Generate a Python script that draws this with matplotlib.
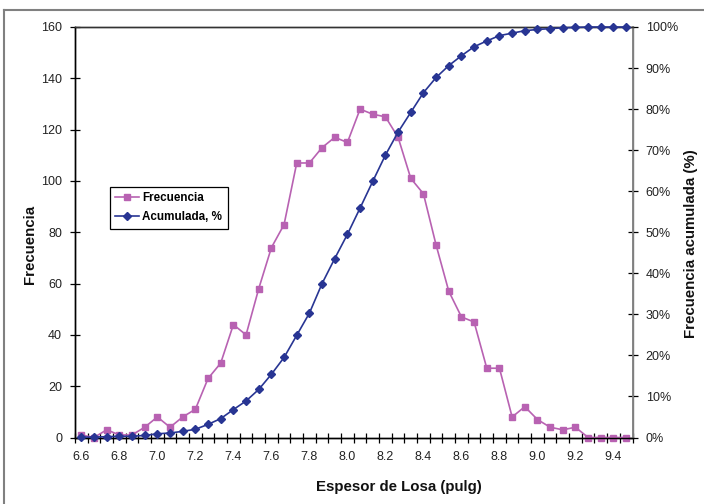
import matplotlib
matplotlib.use("Agg")
import matplotlib.pyplot as plt
from matplotlib.lines import Line2D
from matplotlib.ticker import FixedLocator, FuncFormatter

plt.rcParams['font.family'] = ['Liberation Sans', 'DejaVu Sans']

# Category values (espesor de losa, pulg)
espesor = [6.60, 6.67, 6.73, 6.80, 6.87, 6.93, 7.00, 7.07, 7.13, 7.20, 7.27,
           7.33, 7.40, 7.47, 7.53, 7.60, 7.67, 7.73, 7.80, 7.87, 7.93, 8.00,
           8.07, 8.13, 8.20, 8.27, 8.33, 8.40, 8.47, 8.53, 8.60, 8.67, 8.73,
           8.80, 8.87, 8.93, 9.00, 9.07, 9.13, 9.20, 9.27, 9.33, 9.40, 9.47]

frecuencia = [1, 0, 3, 1, 1, 4, 8, 4, 8, 11, 23,
              29, 44, 40, 58, 74, 83, 107, 107, 113, 117, 115,
              128, 126, 125, 117, 101, 95, 75, 57, 47, 45, 27,
              27, 8, 12, 7, 4, 3, 4, 0, 0, 0, 0]

acumulada = [0.1, 0.1, 0.2, 0.3, 0.3, 0.5, 0.9, 1.1, 1.5, 2.0, 3.2,
             4.6, 6.8, 8.9, 11.7, 15.4, 19.5, 24.9, 30.3, 37.5, 43.6, 49.5,
             55.9, 62.4, 68.8, 74.4, 79.2, 84.0, 87.7, 90.6, 93.0, 95.2, 96.6,
             97.9, 98.5, 99.1, 99.4, 99.6, 99.8, 99.9, 100.0, 100.0, 100.0, 100.0]

left_ticks = [0, 20, 40, 60, 80, 100, 120, 140, 160]
right_ticks = [0, 10, 20, 30, 40, 50, 60, 70, 80, 90, 100]

pink = '#B862B2'
blue = '#283593'

fig = plt.figure(figsize=(7.04, 5.04), dpi=100)
W, H = 704, 504
ax = fig.add_axes([75 / W, 1 - 437.5 / H, (632.5 - 75) / W, (437.5 - 27) / H])
ax2 = ax.twinx()

n = len(espesor)
xs = list(range(n))

l1, = ax.plot(xs, frecuencia, color=pink, lw=1.2, marker='s', markersize=4.6,
              markerfacecolor=pink, markeredgecolor=pink, clip_on=False, zorder=3)
l2, = ax2.plot(xs, acumulada, color=blue, lw=1.2, marker='D', markersize=3.7,
               markerfacecolor=blue, markeredgecolor=blue, clip_on=False, zorder=3)

ax.set_xlim(-0.5, n - 0.5)
ax.set_ylim(0, 160)
ax2.set_ylim(0, 100)

# x axis: labels every 3rd category, tick marks at category boundaries
lab_idx = list(range(0, n, 3))
ax.xaxis.set_major_locator(FixedLocator(lab_idx))
ax.set_xticklabels(['%.1f' % espesor[i] for i in lab_idx])
ax.xaxis.set_minor_locator(FixedLocator([i - 0.5 for i in range(n + 1)]))
ax.tick_params(axis='x', which='major', length=0, pad=10, labelsize=9, colors='#222222')
ax.tick_params(axis='x', which='minor', direction='inout', length=6.5, width=0.9, color='black')

ax.set_yticks(left_ticks)
ax.tick_params(axis='y', direction='inout', length=6.5, width=0.9, pad=6, labelsize=9,
               color='black', labelcolor='#222222')
ax2.set_yticks(right_ticks)
ax2.yaxis.set_major_formatter(FuncFormatter(lambda v, p: '%d%%' % v))
ax2.tick_params(axis='y', direction='inout', length=7, width=0.9, pad=6, labelsize=9,
                color='black', labelcolor='#222222')

for a in (ax, ax2):
    a.spines['left'].set_color('black')
    a.spines['bottom'].set_color('black')
    a.spines['top'].set_color('#333333')
    a.spines['right'].set_color('#7f7f7f')
    for s in a.spines.values():
        s.set_linewidth(1.0)
ax2.spines['right'].set_linewidth(1.3)

# axis titles
fig.text(399 / W, 1 - 487 / H, 'Espesor de Losa (pulg)', ha='center', va='center',
         fontsize=10.8, fontweight='bold', color='#111111')
fig.text(30 / W, 1 - 244 / H, 'Frecuencia', ha='center', va='center', rotation=90,
         fontsize=10.8, fontweight='bold', color='#111111')
fig.text(691 / W, 1 - 244 / H, 'Frecuencia acumulada (%)', ha='center', va='center',
         rotation=90, fontsize=10.8, fontweight='bold', color='#111111')

leg = ax2.legend([l1, l2], ['Frecuencia', 'Acumulada, %'], loc='upper left',
                 bbox_to_anchor=(109.5 / W, 1 - 186.5 / H), bbox_transform=fig.transFigure,
                 fancybox=False, shadow=False, framealpha=1, edgecolor='black',
                 prop={'weight': 'bold', 'size': 8.4}, handlelength=2.0,
                 handletextpad=0.3, borderpad=0.5, labelspacing=0.6, borderaxespad=0)
leg.get_frame().set_linewidth(0.9)

# outer chart frame (only top and left visible)
fig.add_artist(Line2D([4 / W, 4 / W], [0, 1 - 10 / H], transform=fig.transFigure,
                      color='#808080', lw=1.5))
fig.add_artist(Line2D([4 / W, 1], [1 - 10 / H, 1 - 10 / H], transform=fig.transFigure,
                      color='#808080', lw=1.5))

fig.savefig('out.png', dpi=100)
